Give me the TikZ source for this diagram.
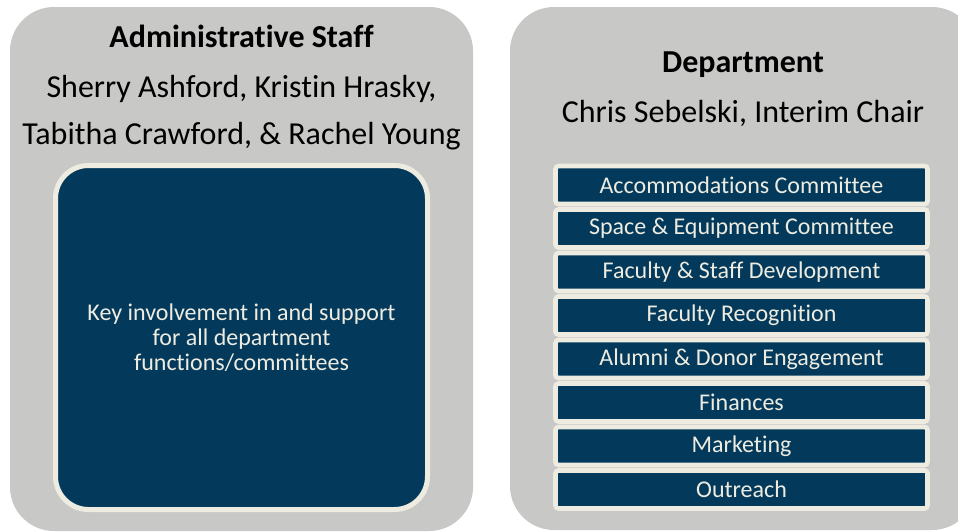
\documentclass[tikz,border=0pt]{standalone}
\usepackage{fontspec}
\setmainfont[RawFeature=-liga]{Carlito}
\usepackage{tikz}
\usetikzlibrary{positioning}

\definecolor{panelgray}{HTML}{C8C8C7}
\definecolor{navy}{HTML}{033A5B}
\definecolor{cream}{HTML}{EEECE1}

\tikzset{
    panel/.style    = {fill=panelgray, rounded corners=33pt, inner sep=0pt, outer sep=0pt},
    keybox/.style   = {fill=navy, draw=cream, line width=3.75pt, rounded corners=24.75pt,
                       minimum width=279pt, minimum height=258pt, inner sep=0pt},
    committee/.style= {fill=navy, draw=cream, line width=3.4pt, rounded corners=2.25pt,
                       minimum width=279pt, minimum height=28.5pt, inner sep=0pt,
                       text=cream, font=\fontsize{18}{21}\selectfont},
    heading/.style  = {anchor=base, inner sep=0pt, font=\fontsize{24}{28}\selectfont\bfseries},
    names/.style    = {anchor=base, inner sep=0pt, font=\fontsize{24}{28}\selectfont}
}

\begin{document}
\begin{tikzpicture}[x=0.75pt, y=-0.75pt]
    \clip (0,0) rectangle (958,532);
    \useasboundingbox (0,0) rectangle (958,532);

    % the two grey panels
    \node [panel, minimum width=347.25pt, minimum height=393pt]   at (241.5, 269  ) (Admin) {};
    \node [panel, minimum width=349.5pt,  minimum height=392.25pt] at (743,   268.5) (Dept)  {};

    % administrative staff
    \node [heading] at (241.5,  47) (AdminHead)   {Administrative Staff};
    \node [names]   at (241.5,  97) (AdminNamesA) {Sherry Ashford, Kristin Hrasky,};
    \node [names]   at (241.5, 144) (AdminNamesB) {Tabitha Crawford, \& Rachel Young};

    \node [keybox] at (241.5, 337.5) (Support) {};
    \node [text=cream, align=center, font=\fontsize{18}{18.75}\selectfont]
        at (Support) (SupportText) {Key involvement in and support\\for all department\\functions/committees};

    % department
    \node [heading] at (743,  72) (DeptHead)  {Department};
    \node [names]   at (743, 122) (DeptChair) {Chris Sebelski, Interim Chair};

    \node [committee] at (741.5, 185  ) (Accommodations) {Accommodations Committee};
    \node [committee] at (741.5, 228.5) (Space)          {Space \& Equipment Committee};
    \node [committee] at (741.5, 272  ) (Development)    {Faculty \& Staff Development};
    \node [committee] at (741.5, 315.5) (Recognition)    {Faculty Recognition};
    \node [committee] at (741.5, 359  ) (Alumni)         {Alumni \& Donor Engagement};
    \node [committee] at (741.5, 402.5) (Finances)       {Finances};
    \node [committee] at (741.5, 446  ) (Marketing)      {Marketing};
    \node [committee] at (741.5, 489.5) (Outreach)       {Outreach};
\end{tikzpicture}
\end{document}
